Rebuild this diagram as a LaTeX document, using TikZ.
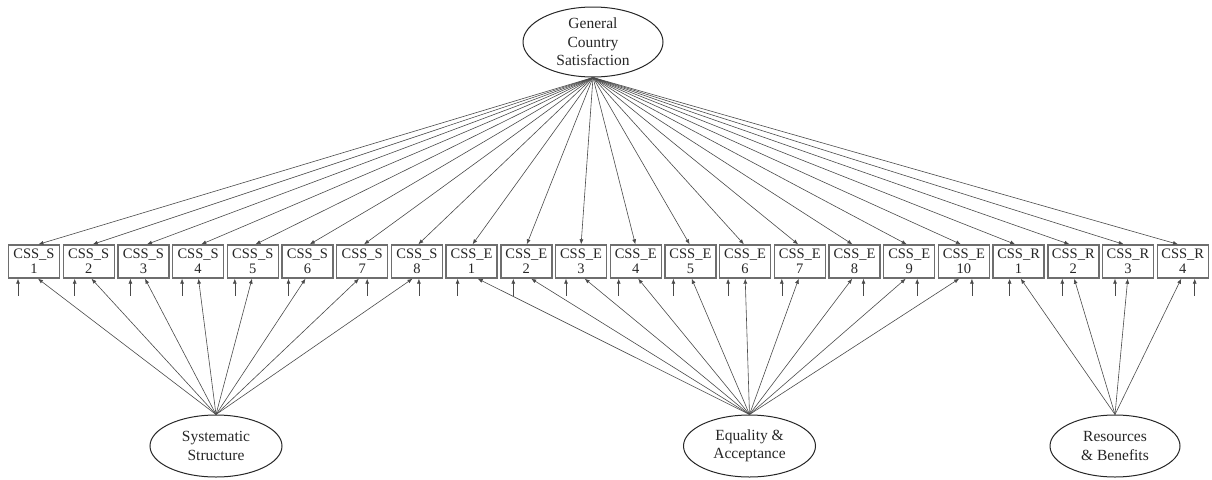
\documentclass[tikz,border=0pt]{standalone}
\usepackage{fontspec}
\setmainfont{Liberation Serif}
\newfontfamily\timesfont{Liberation Serif}
\usetikzlibrary{shapes.geometric,arrows.meta}

\definecolor{Clink}{HTML}{4A4A4A}
\definecolor{Cbox}{HTML}{6E6E6E}
\definecolor{Ctext}{HTML}{262626}

\begin{document}
\begin{tikzpicture}[x=1pt,y=-1pt,
		ind/.style={draw=Cbox,line width=1.4pt,minimum width=51pt,minimum height=33pt,
			inner sep=0pt,align=center,text=Ctext,font=\timesfont\fontsize{14.5}{15}\selectfont},
		lat/.style={ellipse,draw=Ctext,line width=1pt,inner sep=0pt,align=center,
			text=Ctext,font=\timesfont\fontsize{15.5}{18.5}\selectfont},
		lnk/.style={Clink,line width=0.6pt,-{Latex[length=5pt,width=4pt]}}]
		\useasboundingbox (0,0) rectangle (1212,479);
		% latent variables
		\node[lat,minimum width=140pt,minimum height=70pt] (gen) at (593,42) {General\\Country\\Satisfaction};
		\node[lat,minimum width=132pt,minimum height=62pt] (sys) at (216,446) {Systematic\\Structure};
		\node[lat,minimum width=132pt,minimum height=62pt] (eqa) at (749.5,446) {Equality \&\\Acceptance};
		\node[lat,minimum width=130pt,minimum height=62pt] (res) at (1115,446) {Resources\\\& Benefits};
		% indicators
		\foreach \grp/\num [count=\k from 0] in {S/1,S/2,S/3,S/4,S/5,S/6,S/7,S/8,
			E/1,E/2,E/3,E/4,E/5,E/6,E/7,E/8,E/9,E/10,R/1,R/2,R/3,R/4}{
			\pgfmathsetmacro\cx{34+\k*54.7}
			\pgfmathsetmacro\ts{(593-\cx)*0.008}
			\node[ind] (b\k) at (\cx,261.5) {CSS\_\grp\\\num};
			\draw[lnk] (gen.south) -- ([xshift=\ts pt]b\k.north);
		}
		% loadings and error terms
		\foreach \k/\eo in {0/-16,1/-14,2/-13,3/-16,4/-18,5/-19,6/5,7/2}{
			\pgfmathsetmacro\fs{(216-34-\k*54.7)*0.022}
			\draw[lnk] (sys.north) -- ([xshift=\fs pt]b\k.south);
			\coordinate (e\k) at ([xshift=\eo pt,yshift=-17pt]b\k.south);
			\draw[lnk] (e\k) -- ([xshift=\eo pt]b\k.south);
		}
		\foreach \k/\eo in {8/-14,9/-13,10/-15,11/-17,12/-17,13/-17,14/-18,15/9,16/8,17/8}{
			\pgfmathsetmacro\fs{(749.5-34-\k*54.7)*0.022}
			\draw[lnk] (eqa.north) -- ([xshift=\fs pt]b\k.south);
			\coordinate (e\k) at ([xshift=\eo pt,yshift=-17pt]b\k.south);
			\draw[lnk] (e\k) -- ([xshift=\eo pt]b\k.south);
		}
		\foreach \k/\eo in {18/-9,19/-11,20/-13,21/12}{
			\pgfmathsetmacro\fs{(1115-34-\k*54.7)*0.022}
			\draw[lnk] (res.north) -- ([xshift=\fs pt]b\k.south);
			\coordinate (e\k) at ([xshift=\eo pt,yshift=-17pt]b\k.south);
			\draw[lnk] (e\k) -- ([xshift=\eo pt]b\k.south);
		}
	\end{tikzpicture}
\end{document}
